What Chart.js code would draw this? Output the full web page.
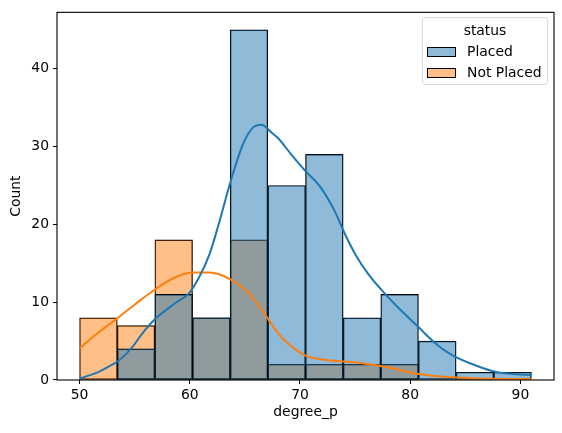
<!DOCTYPE html>
<html>
<head>
<meta charset="utf-8">
<script src="https://cdn.jsdelivr.net/npm/chart.js@4.4.1/dist/chart.umd.min.js"></script>
<style>
    html, body { margin: 0; padding: 0; background: #fff; }
    #wrap { position: relative; width: 562px; height: 433px; font-family: "DejaVu Sans", sans-serif; }
    #legend {
        position: absolute; left: 422px; top: 17px; width: 124px; height: 66px;
        border: 1px solid #d9d9d9; border-radius: 3px; background: rgba(255,255,255,0.8);
        font-size: 13.9px; color: #000;
    }
    #legend .title { position: absolute; left: 0; right: 0; top: 3px; text-align: center; line-height: 18px; }
    #legend .row { position: absolute; left: 4px; height: 18px; line-height: 18px; }
    #legend .patch { position: absolute; left: 0; top: 5px; width: 27px; height: 8px; border: 1px solid #000; }
    #legend .label { position: absolute; left: 40px; white-space: nowrap; }
</style>
</head>
<body>
<div id="wrap">
    <canvas id="histChart" width="562" height="433"></canvas>
    <div id="legend">
        <div class="title">status</div>
        <div class="row" style="top:24px"><div class="patch" style="background:rgba(31,119,180,0.5)"></div><span class="label">Placed</span></div>
        <div class="row" style="top:45px"><div class="patch" style="background:rgba(255,127,14,0.5)"></div><span class="label">Not Placed</span></div>
    </div>
</div>
<script>
// bin edges of the histogram (degree_p)
const binEdges = [50, 53.42, 56.83, 60.25, 63.67, 67.08, 70.5, 73.92, 77.33, 80.75, 84.17, 87.58, 91];
const placedCounts = [0, 4, 11, 8, 45, 25, 29, 8, 11, 5, 1, 1];
const notPlacedCounts = [8, 7, 18, 8, 18, 2, 2, 2, 2, 0, 0, 0];

// kde curves
const placedKdeX = [50, 51.4, 52.6, 53.6, 54.8, 55.7, 56.9, 58.7, 59.9, 60.85, 61.8, 62.7, 63.7, 64.8, 65.7, 66.5, 67.5, 68.0, 69.2, 70.4, 71.9, 73.15, 74.1, 75.0, 76.2, 77.7, 79.2, 80.75, 82.3, 83.8, 85.9, 87.7, 89.6, 91];
const placedKdeY = [0.2, 0.85, 1.7, 2.55, 4.25, 6.0, 7.9, 9.9, 11.1, 13.2, 16.2, 20.4, 25.5, 30.2, 32.4, 32.8, 31.7, 31.1, 29.0, 27.0, 24.7, 21.7, 18.7, 16.2, 13.6, 11.1, 8.9, 6.8, 4.7, 3.2, 1.9, 1.06, 0.73, 0.64];
const notPlacedKdeX = [50, 51.4, 53.4, 55.1, 56.9, 58.7, 60.25, 61.8, 63.6, 65.1, 66.6, 67.8, 68.6, 70.4, 72.2, 74.7, 77.7, 80.75, 83.8, 86.0, 88.5, 91];
const notPlacedKdeY = [4.05, 5.75, 7.9, 9.8, 11.7, 13.2, 13.8, 13.8, 13.0, 11.5, 8.9, 6.4, 5.1, 3.2, 2.6, 2.3, 1.7, 0.77, 0.34, 0.2, 0.14, 0.1];

const xTicks = [50, 60, 70, 80, 90];
const yTicks = [0, 10, 20, 30, 40];

const binCenters = binEdges.slice(0, -1).map((e, i) => (e + binEdges[i + 1]) / 2);
const toPoints = (xs, ys) => xs.map((x, i) => ({ x: x, y: ys[i] }));

const blue = "#1f77b4";
const orange = "#ff7f0e";
const font = { family: "DejaVu Sans", size: 13.9 };

// matplotlib style box around the axes
const framePlugin = {
    id: "frame",
    afterDatasetsDraw(chart) {
        const a = chart.chartArea;
        const ctx = chart.ctx;
        ctx.save();
        ctx.strokeStyle = "#000";
        ctx.lineWidth = 1.1;
        ctx.strokeRect(a.left, a.top, a.right - a.left, a.bottom - a.top);
        ctx.restore();
    }
};

const barStyle = {
    borderColor: "#000",
    borderWidth: 0.8,
    borderSkipped: false,
    barPercentage: 1,
    categoryPercentage: 1,
    grouped: false,
    order: 1
};

new Chart(document.getElementById("histChart"), {
    type: "bar",
    data: {
        datasets: [
            {
                type: "line",
                label: "Placed kde",
                data: toPoints(placedKdeX, placedKdeY),
                borderColor: blue,
                borderWidth: 2,
                pointRadius: 0,
                cubicInterpolationMode: "monotone",
                order: 0
            },
            {
                type: "line",
                label: "Not Placed kde",
                data: toPoints(notPlacedKdeX, notPlacedKdeY),
                borderColor: orange,
                borderWidth: 2,
                pointRadius: 0,
                cubicInterpolationMode: "monotone",
                order: 0
            },
            Object.assign({
                label: "Placed",
                data: toPoints(binCenters, placedCounts),
                backgroundColor: "rgba(31,119,180,0.5)"
            }, barStyle),
            Object.assign({
                label: "Not Placed",
                data: toPoints(binCenters, notPlacedCounts),
                backgroundColor: "rgba(255,127,14,0.5)"
            }, barStyle)
        ]
    },
    options: {
        responsive: false,
        animation: false,
        layout: { padding: { left: 0, top: 10, right: 8, bottom: 0 } },
        plugins: {
            legend: { display: false },
            tooltip: { enabled: false }
        },
        scales: {
            x: {
                type: "linear",
                min: 47.95,
                max: 93.05,
                offset: false,
                afterBuildTicks: s => { s.ticks = xTicks.map(v => ({ value: v })); },
                afterFit: s => { s.height = 53; },
                border: { display: false },
                grid: { display: true, offset: false, drawOnChartArea: false, drawTicks: true, tickLength: 4, color: "#000", lineWidth: 1 },
                ticks: { font: font, color: "#000", padding: 3, maxRotation: 0 },
                title: { display: true, text: "degree_p", font: font, color: "#000", padding: { top: 0, bottom: 12 } }
            },
            y: {
                min: 0,
                max: 47.25,
                afterBuildTicks: s => { s.ticks = yTicks.map(v => ({ value: v })); },
                afterFit: s => { s.width = 57; },
                border: { display: false },
                grid: { display: true, offset: false, drawOnChartArea: false, drawTicks: true, tickLength: 4, color: "#000", lineWidth: 1 },
                ticks: { font: font, color: "#000", padding: 4 },
                title: { display: true, text: "Count", font: font, color: "#000", padding: { top: 7.6, bottom: 0 } }
            }
        }
    },
    plugins: [framePlugin]
});
</script>
</body>
</html>
